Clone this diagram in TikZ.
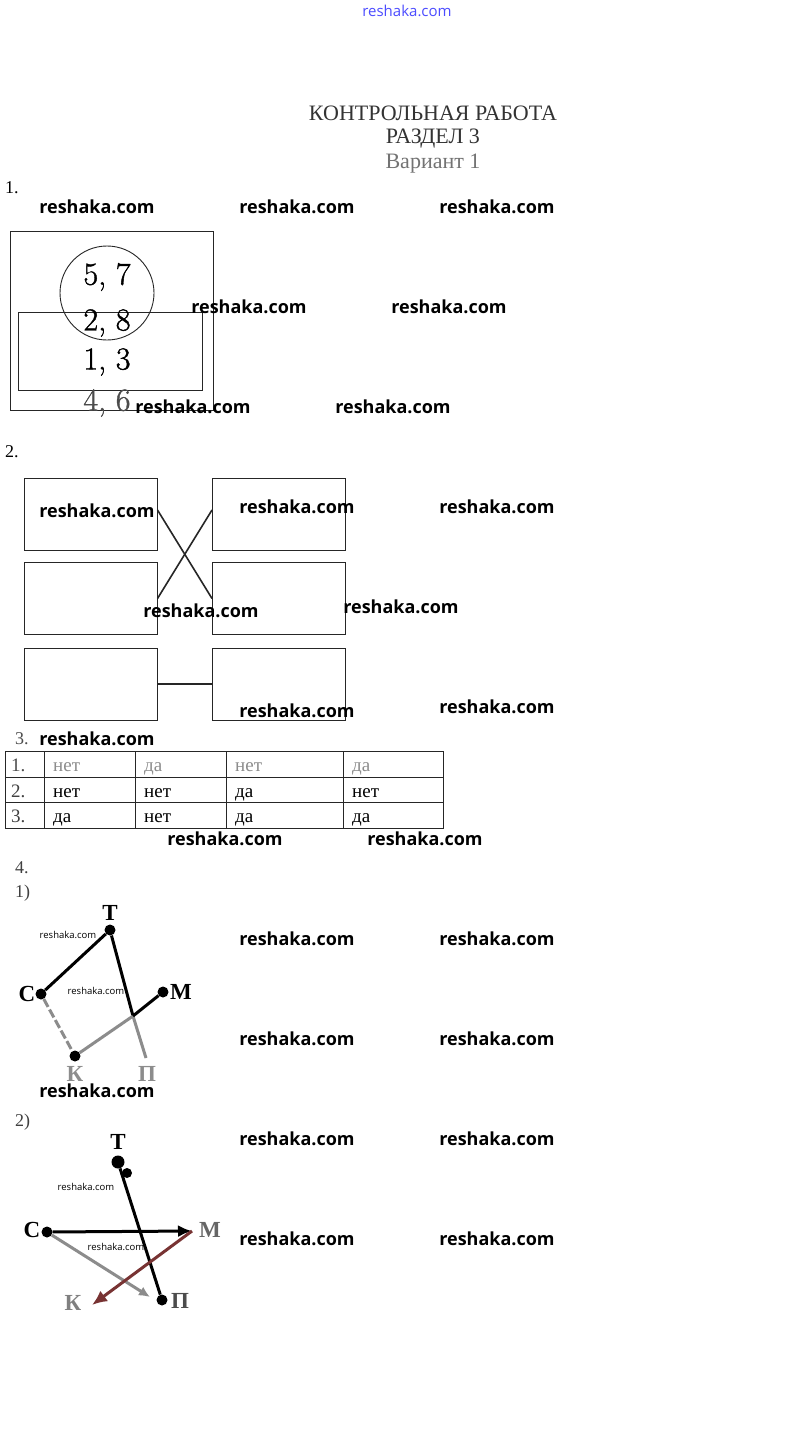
\documentclass[tikz,border=0pt]{standalone}
\usepackage{fontspec}
\setmainfont{Liberation Serif}
\newfontfamily\wmfont{Open Sans}
\newfontfamily\lmfont[FakeBold=1.2]{Latin Modern Roman}
\usetikzlibrary{arrows.meta,calc}
\begin{document}
\begin{tikzpicture}[x=1pt,y=-1pt,
  wm/.style={font=\wmfont\bfseries\fontsize{18}{20}\selectfont, text=black, inner sep=0},
  wmsmall/.style={font=\wmfont\fontsize{9.5}{11}\selectfont, text=black, inner sep=0},
  ser/.style={font=\fontsize{18}{20}\selectfont, inner sep=0},
  titl/.style={font=\fontsize{22}{24}\selectfont, text=black!80, inner sep=0},
  digit/.style={font=\lmfont\fontsize{32}{34}\selectfont, inner sep=0},
  cell/.style={font=\fontsize{19}{21}\selectfont, inner sep=0, anchor=base west},
  box/.style={draw=black!85, line width=1pt, minimum width=133pt, minimum height=72pt, inner sep=0},
  conn/.style={draw=black!85, line width=1.6pt},
  dot/.style={circle, fill=black, inner sep=0, minimum size=11pt},
  gl/.style={font=\fontsize{23}{25}\selectfont\bfseries, inner sep=0},
  edge/.style={line width=3pt, black},
  gedge/.style={line width=3pt, black!45},
]
\useasboundingbox (0,0) rectangle (811,1435);
\fill[white] (0,0) rectangle (811,1435);

% top link
\node[font=\wmfont\fontsize{15}{17}\selectfont, text=blue!70, inner sep=0] (top) at (407,11) {reshaka.com};

% title
\node[titl] (t1) at (433,113) {КОНТРОЛЬНАЯ РАБОТА};
\node[titl] (t2) at (433,139) {РАЗДЕЛ 3};
\node[titl, text=black!55] (t3) at (433,164) {Вариант 1};

% section 1
\node[ser, anchor=west] (n1) at (5,188) {1.};
\draw[line width=1pt, black!85] (10,231) rectangle (213,410);
\draw[line width=1pt, black!85] (18,312) rectangle (202,390);
\draw[line width=0.9pt, black!85] (107,293) circle (47);
\node[digit] (d1) at (107,277) {5, 7};
\node[digit] (d2) at (107,323) {2, 8};
\node[digit] (d3) at (107,362) {1, 3};
\node[digit, text=black!70] (d4) at (107,403) {4, 6};

% section 2
\node[ser, anchor=west] (n2) at (5,452) {2.};
\node[box] (L1) at (90.5,514) {};
\node[box] (L2) at (90.5,598.5) {};
\node[box] (L3) at (90.5,684) {};
\node[box] (R1) at (279,514) {};
\node[box] (R2) at (279,598.5) {};
\node[box] (R3) at (279,684) {};
\draw[conn] ($(L1.east)+(0,-4)$) -- (R2.west);
\draw[conn] (L2.east) -- ($(R1.west)+(0,-4)$);
\draw[conn] (L3.east) -- (R3.west);

% section 3
\node[ser, text=black!70, anchor=west] (n3) at (15,739) {3.};
\draw[line width=1pt, black!85] (5,751) rectangle (443,828);
\draw[line width=1pt, black!85] (5,777) -- (443,777);
\draw[line width=1pt, black!85] (5,802) -- (443,802);
\foreach \xx in {44,135,226,343} \draw[line width=1pt, black!85] (\xx,751) -- (\xx,828);
\node[cell, text=black!70] (c10) at (11,771) {1.};
\node[cell, text=black!45] (c11) at (53,771) {нет};
\node[cell, text=black!45] (c12) at (144,771) {да};
\node[cell, text=black!45] (c13) at (235,771) {нет};
\node[cell, text=black!45] (c14) at (352,771) {да};
\node[cell, text=black!75] (c20) at (11,797) {2.};
\node[cell] (c21) at (53,797) {нет};
\node[cell] (c22) at (144,797) {нет};
\node[cell] (c23) at (235,797) {да};
\node[cell] (c24) at (352,797) {нет};
\node[cell, text=black!75] (c30) at (11,822) {3.};
\node[cell] (c31) at (53,822) {да};
\node[cell] (c32) at (144,822) {нет};
\node[cell] (c33) at (235,822) {да};
\node[cell] (c34) at (352,822) {да};

% section 4
\node[ser, text=black!75, anchor=west] (n4) at (15,868) {4.};
\node[ser, text=black!75, anchor=west] (n41) at (15,893) {1)};

% graph 1
\node[dot] (T) at (110,930) {};
\node[dot] (C) at (41,994) {};
\node[dot] (M) at (163,992) {};
\node[dot] (K) at (75,1056) {};
\coordinate (P) at (146,1058);
\coordinate (X) at (133,1016);
\node[gl] (Tl) at (110,913) {Т};
\node[gl] (Cl) at (27,994) {С};
\node[gl] (Ml) at (181,992) {М};
\node[gl, text=black!45] (Kl) at (75,1074) {К};
\node[gl, text=black!45] (Pl) at (147,1074) {П};
\draw[edge] (C) -- (T);
\draw[edge] (T) -- (X);
\draw[gedge] (X) -- (P);
\draw[gedge, dash pattern=on 9pt off 3pt] (C) -- (K);
\draw[gedge] (K) -- (X);
\draw[edge] (X) -- (M);

% graph 2
\node[ser, text=black!75, anchor=west] (n42) at (15,1122) {2)};
\node[dot, minimum size=13pt] (T2) at (118,1162) {};
\node[dot, minimum size=10pt] (T2b) at (127,1173) {};
\node[dot] (C2) at (47,1232) {};
\coordinate (M2) at (192,1231);
\node[dot] (P2) at (162,1300) {};
\coordinate (K2) at (92,1305);
\node[gl] (T2l) at (118,1142) {Т};
\node[gl] (C2l) at (32,1230) {С};
\node[gl, text=black!60] (M2l) at (210,1230) {М};
\node[gl, text=black!50] (K2l) at (73,1303) {К};
\node[gl, text=black!70] (P2l) at (180,1301) {П};
\draw[edge] (T2) -- (P2);
\draw[edge, -{Latex[length=14pt,width=12pt]}] (C2) -- (M2);
\draw[gedge, -{Latex[length=11pt,width=10pt]}] (C2) -- ($(P2)+(-12,-3)$);
\draw[line width=3pt, black!55!red!60!gray, -{Latex[length=15pt,width=13pt]}] (M2) -- (K2);

% watermarks
\node[wm] (w1) at (97,207) {reshaka.com};
\node[wm] (w2) at (297,207) {reshaka.com};
\node[wm] (w3) at (497,207) {reshaka.com};
\node[wm] (w4) at (249,307) {reshaka.com};
\node[wm] (w5) at (449,307) {reshaka.com};
\node[wm] (w6) at (193,407) {reshaka.com};
\node[wm] (w7) at (393,407) {reshaka.com};
\node[wm] (w8) at (97,511) {reshaka.com};
\node[wm] (w9) at (297,507) {reshaka.com};
\node[wm] (w10) at (497,507) {reshaka.com};
\node[wm] (w11) at (201,611) {reshaka.com};
\node[wm] (w12) at (401,607) {reshaka.com};
\node[wm] (w13) at (297,711) {reshaka.com};
\node[wm] (w14) at (497,707) {reshaka.com};
\node[wm] (w15) at (97,739) {reshaka.com};
\node[wm] (w16) at (225,839) {reshaka.com};
\node[wm] (w17) at (425,839) {reshaka.com};
\node[wm] (w18) at (297,939) {reshaka.com};
\node[wm] (w19) at (497,939) {reshaka.com};
\node[wm] (w20) at (297,1039) {reshaka.com};
\node[wm] (w21) at (497,1039) {reshaka.com};
\node[wm] (w22) at (97,1091) {reshaka.com};
\node[wm] (w23) at (297,1139) {reshaka.com};
\node[wm] (w24) at (497,1139) {reshaka.com};
\node[wm] (w25) at (297,1239) {reshaka.com};
\node[wm] (w26) at (497,1239) {reshaka.com};
\node[wmsmall] (s1) at (68,935) {reshaka.com};
\node[wmsmall] (s2) at (96,991) {reshaka.com};
\node[wmsmall] (s3) at (86,1187) {reshaka.com};
\node[wmsmall] (s4) at (116,1247) {reshaka.com};
\end{tikzpicture}
\end{document}
